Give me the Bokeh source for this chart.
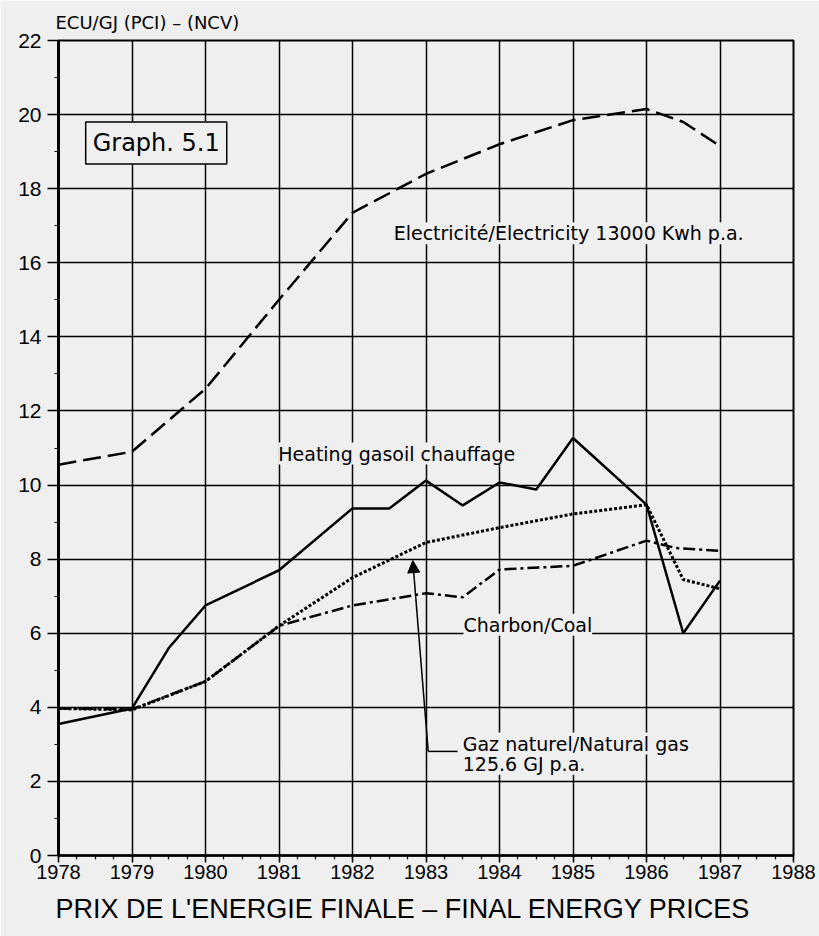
from bokeh.plotting import figure
from bokeh.models import Range1d, Label, Arrow, NormalHead, Title, FixedTicker
from bokeh.embed import file_html
from bokeh.resources import INLINE

# ---- data ----
elec_years = [1978, 1979, 1980, 1981, 1982, 1983, 1984, 1985, 1986, 1986.5, 1987]
elec = [10.55, 10.9, 12.6, 15.0, 17.35, 18.4, 19.2, 19.85, 20.15, 19.8, 19.15]

heat_years = [1978, 1979, 1979.5, 1980, 1981, 1982, 1982.5, 1983, 1983.5, 1984, 1984.5, 1985, 1986, 1986.5, 1987]
heat = [3.55, 3.97, 5.6, 6.75, 7.7, 9.37, 9.37, 10.12, 9.45, 10.07, 9.88, 11.27, 9.47, 6.0, 7.42]

gas_years = [1978, 1979, 1980, 1981, 1982, 1983, 1984, 1985, 1986, 1986.5, 1987]
gas = [3.97, 3.93, 4.7, 6.2, 7.5, 8.45, 8.85, 9.22, 9.47, 7.45, 7.2]

coal_years = [1978, 1979, 1980, 1981, 1982, 1983, 1983.5, 1984, 1985, 1986, 1986.4, 1987]
coal = [3.97, 3.95, 4.7, 6.2, 6.75, 7.08, 6.97, 7.72, 7.82, 8.5, 8.3, 8.22]

x_ticks = list(range(1978, 1989))
y_ticks = list(range(0, 23, 2))

BG = "#efefef"
LABEL_FONT = "DejaVu Sans"
TICK_FONT = "Liberation Sans"

p = figure(width=819, height=936, output_backend="svg", toolbar_location=None,
           x_range=Range1d(1978, 1988), y_range=Range1d(0, 22),
           min_border_left=58, min_border_right=26, min_border_top=40, min_border_bottom=81,
           background_fill_color=BG, border_fill_color=BG)

# top-left unit title
p.title.text = "ECU/GJ (PCI) – (NCV)"
p.title.align = "left"
p.title.offset = -3
p.title.text_font = LABEL_FONT
p.title.text_font_size = "18px"
p.title.text_font_style = "normal"
p.title.text_color = "black"
p.title.standoff = 12
p.title.vertical_align = "top"

bottom = Title(text="PRIX DE L'ENERGIE FINALE – FINAL ENERGY PRICES", align="left",
               text_font=TICK_FONT, text_font_size="27px", text_font_style="normal",
               text_color="black", offset=-3, standoff=20)
p.add_layout(bottom, "below")

# axes
p.xaxis.ticker = FixedTicker(ticks=x_ticks,
                             minor_ticks=[1978 + i * 0.25 for i in range(41)])
p.yaxis.ticker = FixedTicker(ticks=y_ticks, minor_ticks=list(range(0, 23)))
for ax in (p.xaxis, p.yaxis):
    ax.axis_line_color = "black"
    ax.major_tick_line_color = "black"
    ax.minor_tick_line_color = "black"
    ax.major_tick_in = 0
    ax.minor_tick_in = 0
    ax.minor_tick_out = 4
    ax.major_tick_line_width = 1.5
    ax.minor_tick_line_width = 1.2
    ax.major_label_text_font = TICK_FONT
    ax.major_label_text_font_size = "20px"
    ax.major_label_text_color = "black"
p.yaxis.major_label_text_font_size = "21px"
p.xaxis.axis_line_width = 2.5
p.yaxis.axis_line_width = 3
p.xaxis.major_tick_out = 7
p.yaxis.major_tick_out = 11
p.xaxis.major_label_standoff = 2
p.yaxis.major_label_standoff = 6

p.grid.grid_line_color = "black"
p.grid.grid_line_width = 1.5
p.grid.grid_line_alpha = 1
p.outline_line_color = "black"
p.outline_line_width = 2

# series
p.line(elec_years, elec, line_color="black", line_width=2.5, line_dash="18 7")
p.line(heat_years, heat, line_color="black", line_width=2.5)
p.line(gas_years, gas, line_color="black", line_width=3, line_dash="3 2")
p.line(coal_years, coal, line_color="black", line_width=2.5, line_dash="12 4 3 4")

# labels
def lab(x, y, t, size="19px"):
    p.add_layout(Label(x=x, y=y, text=t, text_font=LABEL_FONT, text_font_size=size,
                       text_baseline="middle", text_align="left", text_color="black",
                       background_fill_color=BG, background_fill_alpha=1))

lab(1982.56, 16.8, "Electricité/Electricity 13000 Kwh p.a.")
lab(1980.99, 10.85, "Heating gasoil chauffage")
lab(1983.51, 6.23, "Charbon/Coal")
lab(1983.5, 3.02, "Gaz naturel/Natural gas")
lab(1983.5, 2.48, "125.6 GJ p.a.")

p.add_layout(Label(x=1978.37, y=19.23, text="Graph. 5.1", text_font=LABEL_FONT,
                   text_font_size="24px", text_baseline="middle", text_align="left",
                   text_color="black",
                   background_fill_color=BG, border_line_color="black",
                   border_line_width=1.5, padding=7))

# arrow pointing at natural gas line
p.line([1983.43, 1983.03], [2.81, 2.81], line_color="black", line_width=1.5)
p.add_layout(Arrow(end=NormalHead(size=12, fill_color="black", line_color="black"),
                   x_start=1983.03, y_start=2.81, x_end=1982.82, y_end=7.96,
                   line_color="black", line_width=1.5))

html = file_html(p, INLINE)
html = html.replace("<body>", '<body style="background:#efefef; margin:0; overflow:hidden">', 1)
open("out.html", "w").write(html)
